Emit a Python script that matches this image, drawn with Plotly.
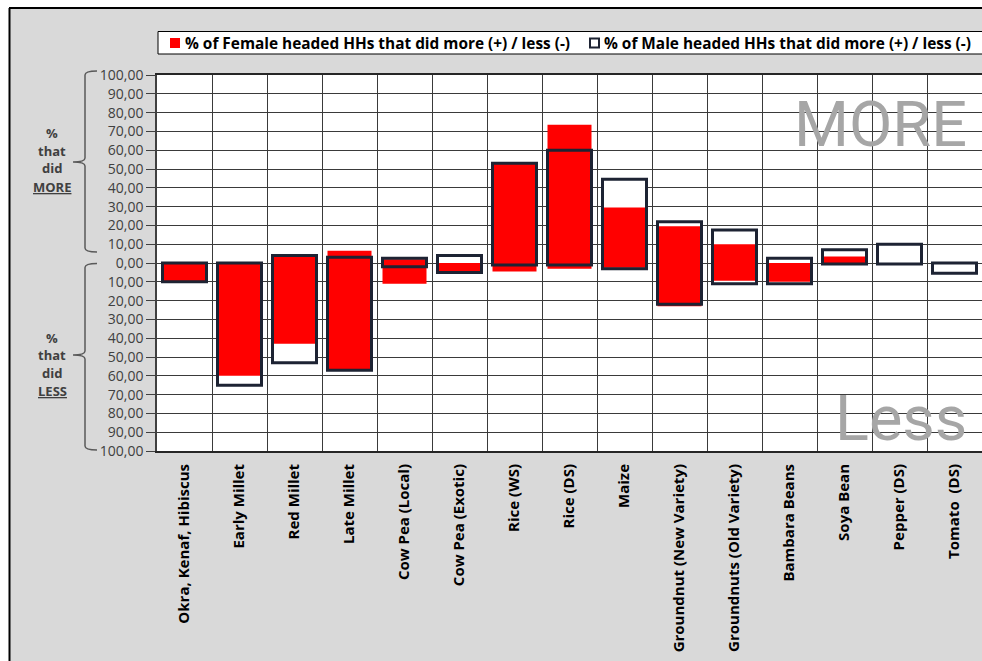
import plotly.graph_objects as go

# ---- data -------------------------------------------------------------
categories = [
    "Okra, Kenaf, Hibiscus", "Early Millet", "Red Millet", "Late Millet",
    "Cow Pea (Local)", "Cow Pea (Exotic)", "Rice (WS)", "Rice (DS)", "Maize",
    "Groundnut (New Variety)", "Groundnuts (Old Variety)", "Bambara Beans",
    "Soya Bean", "Pepper (DS)", "Tomato  (DS)",
]

# share of households (%) that did more (+) and less (-)
female_more = [0, 0, 4, 6.5, 2, 0, 53, 73.5, 29.5, 19.5, 10, 0, 3.5, 0, 0]
female_less = [10, 60, 43, 57, 11, 5, 4.5, 3, 2.5, 23, 9.5, 10, 0, 0, 0]
male_more = [0, 0, 4, 3, 2.5, 4, 53, 60, 44.5, 22, 17.5, 2.5, 7, 10, 0]
male_less = [10, 65, 53, 57, 2, 5, 1, 1, 3, 22, 11, 11, 0.5, 0.5, 5.5]

tick_values = [-100, -90, -80, -70, -60, -50, -40, -30, -20, -10, 0,
               10, 20, 30, 40, 50, 60, 70, 80, 90, 100]
tick_labels = ["100,00", "90,00", "80,00", "70,00", "60,00", "50,00", "40,00",
               "30,00", "20,00", "10,00", "0,00", "10,00", "20,00", "30,00",
               "40,00", "50,00", "60,00", "70,00", "80,00", "90,00", "100,00"]

female_name = "% of Female headed HHs that did more (+) / less (-)"
male_name = "% of Male headed HHs that did more (+) / less (-)"

# ---- styling -------------------------------------------------------------
W, H = 982, 661
ML, MR, MT, MB = 157, 0, 75, 210
PW, PH = W - ML - MR, H - MT - MB

RED = "#FF0000"
NAVY = "#1d2333"
GRID = "#3a3a3a"
GREYTXT = "#404040"
BG = "#D9D9D9"


def px2x(px):
    return (px - ML) / PW


def px2y(py):
    return (H - MB - py) / PH


female_base = [-v for v in female_less]
female_span = [m + l for m, l in zip(female_more, female_less)]
male_base = [-v for v in male_less]
male_span = [m + l for m, l in zip(male_more, male_less)]

fig = go.Figure()

# white body of the male bars (kept under the red bars)
fig.add_trace(go.Bar(
    x=categories, y=male_span, base=male_base, width=0.8,
    marker=dict(color="white", line=dict(width=0)),
    showlegend=False, hoverinfo="skip",
))
# female bars
fig.add_trace(go.Bar(
    x=categories, y=female_span, base=female_base, width=0.8, name=female_name,
    marker=dict(color=RED, line=dict(width=0)),
    showlegend=False,
))
# male bar outlines on top
fig.add_trace(go.Bar(
    x=categories, y=male_span, base=male_base, width=0.8, name=male_name,
    marker=dict(color="rgba(0,0,0,0)", line=dict(color=NAVY, width=3)),
    showlegend=False,
))

shapes = []
# outer frame
shapes.append(dict(type="rect", xref="paper", yref="paper",
                   x0=px2x(0), x1=px2x(W + 5), y0=px2y(0), y1=px2y(8),
                   fillcolor="white", line=dict(width=0), layer="above"))
shapes.append(dict(type="rect", xref="paper", yref="paper",
                   x0=px2x(0), x1=px2x(9), y0=px2y(0), y1=px2y(H + 5),
                   fillcolor="white", line=dict(width=0), layer="above"))
shapes.append(dict(type="line", xref="paper", yref="paper",
                   x0=px2x(9), x1=px2x(W + 5), y0=px2y(8), y1=px2y(8),
                   line=dict(color="black", width=2)))
shapes.append(dict(type="line", xref="paper", yref="paper",
                   x0=px2x(9.5), x1=px2x(9.5), y0=px2y(8), y1=px2y(H + 5),
                   line=dict(color="black", width=2)))

# legend box and swatches
shapes.append(dict(type="rect", xref="paper", yref="paper",
                   x0=px2x(158), x1=px2x(W + 10), y0=px2y(31.5), y1=px2y(54),
                   fillcolor="white", line=dict(color="black", width=1)))
shapes.append(dict(type="rect", xref="paper", yref="paper",
                   x0=px2x(170), x1=px2x(180), y0=px2y(38), y1=px2y(48),
                   fillcolor=RED, line=dict(width=0)))
shapes.append(dict(type="rect", xref="paper", yref="paper",
                   x0=px2x(590), x1=px2x(599), y0=px2y(38.5), y1=px2y(47.5),
                   fillcolor="white", line=dict(color=NAVY, width=2)))


def brace(top, mid, bot, xv=85, xh=97, xt=73, r=4):
    pts = [
        f"M{px2x(xh)},{px2y(top)}",
        f"Q{px2x(xv)},{px2y(top)} {px2x(xv)},{px2y(top + r)}",
        f"L{px2x(xv)},{px2y(mid - r)}",
        f"Q{px2x(xv)},{px2y(mid)} {px2x(xt)},{px2y(mid)}",
        f"Q{px2x(xv)},{px2y(mid)} {px2x(xv)},{px2y(mid + r)}",
        f"L{px2x(xv)},{px2y(bot - r)}",
        f"Q{px2x(xv)},{px2y(bot)} {px2x(xh)},{px2y(bot)}",
    ]
    return dict(type="path", xref="paper", yref="paper", path=" ".join(pts),
                line=dict(color="#5a5a5a", width=1.5))


shapes.append(brace(71, 162, 252))
shapes.append(brace(263.5, 355, 450))

annotations = []
annotations.append(dict(xref="paper", yref="paper", x=px2x(183), y=px2y(43),
                        xanchor="left", yanchor="middle", showarrow=False,
                        text=f"<b>{female_name}</b>",
                        font=dict(family="Open Sans", size=15.4, color="black")))
annotations.append(dict(xref="paper", yref="paper", x=px2x(602), y=px2y(43),
                        xanchor="left", yanchor="middle", showarrow=False,
                        text=f"<b>{male_name}</b>",
                        font=dict(family="Open Sans", size=15.4, color="black")))

side_lines = [
    (["%", "that", "did", "<u>MORE</u>"], [133, 150.5, 168, 186.5]),
    (["%", "that", "did", "<u>LESS</u>"], [337.5, 355, 372.5, 390.5]),
]
for words, ys in side_lines:
    for w, yy in zip(words, ys):
        annotations.append(dict(xref="paper", yref="paper", x=px2x(52), y=px2y(yy),
                                xanchor="center", yanchor="middle", showarrow=False,
                                text=f"<b>{w}</b>",
                                font=dict(family="Open Sans", size=13, color=GREYTXT)))

annotations.append(dict(xref="paper", yref="paper", x=px2x(969), y=px2y(124),
                        xanchor="right", yanchor="middle", showarrow=False,
                        text="MORE",
                        font=dict(family="Roboto", size=63, color="#A6A6A6")))
annotations.append(dict(xref="paper", yref="paper", x=px2x(969), y=px2y(418),
                        xanchor="right", yanchor="middle", showarrow=False,
                        text="Less",
                        font=dict(family="Roboto", size=63, color="#A6A6A6")))

fig.update_layout(
    width=W, height=H,
    margin=dict(l=ML, r=MR, t=MT, b=MB, pad=0),
    paper_bgcolor=BG, plot_bgcolor="white",
    barmode="overlay", bargap=0.2,
    showlegend=False,
    shapes=shapes, annotations=annotations,
    xaxis=dict(
        type="category", range=[-0.5, 14.5],
        tickson="boundaries", ticks="",
        showgrid=True, gridcolor=GRID, gridwidth=1,
        showline=True, linecolor="#262626", linewidth=2, mirror=True,
        tickangle=-90, ticklabelstandoff=5,
        tickfont=dict(family="Open Sans", size=15, color="black", weight="bold"),
    ),
    yaxis=dict(
        range=[-100, 100], tickmode="array",
        tickvals=tick_values, ticktext=tick_labels,
        showgrid=True, gridcolor=GRID, gridwidth=1, zeroline=False,
        ticks="outside", ticklen=9, tickcolor=GREYTXT, tickwidth=1,
        showline=True, linecolor=GREYTXT, linewidth=1.5,
        tickfont=dict(family="Open Sans", size=14, color=GREYTXT),
    ),
)

fig.write_html("out.html")
